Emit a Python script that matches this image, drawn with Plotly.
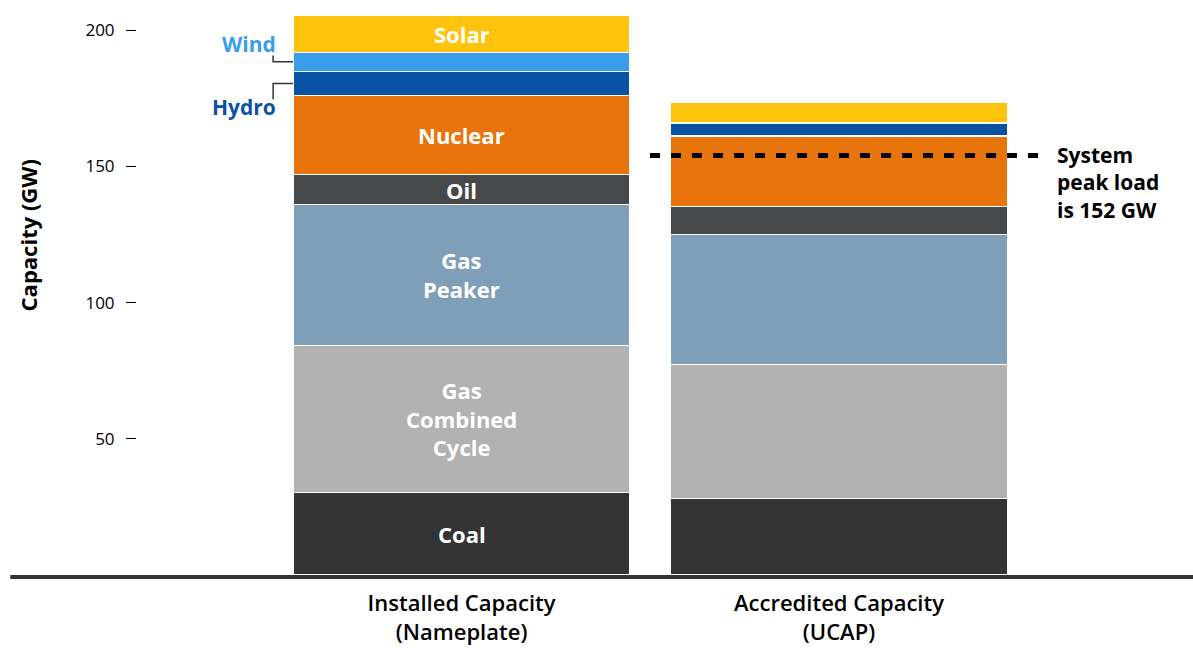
import plotly.graph_objects as go

bars = ["Installed Capacity<br>(Nameplate)", "Accredited Capacity<br>(UCAP)"]
sources = ["Coal", "Gas Combined Cycle", "Gas Peaker", "Oil", "Nuclear", "Hydro", "Wind", "Solar"]
installed = [30.4, 53.8, 51.9, 10.8, 29.0, 9.1, 6.9, 13.4]
ucap = [28.2, 49.0, 47.9, 10.3, 25.8, 4.5, 0.3, 7.5]
colors = ["#343434", "#b2b2b2", "#7f9fb8", "#47484a", "#e7750c", "#0a52a3", "#389ee9", "#fec30c"]
inside_labels = ["Coal", "Gas<br>Combined<br>Cycle", "Gas<br>Peaker", "Oil", "Nuclear", None, None, "Solar"]
peak_line = 154
peak_text = "System<br>peak load<br>is 152 GW"
y_ticks = [50, 100, 150, 200]

FONT = "Open Sans"
xs = [0, 1]

fig = go.Figure()
for i, src in enumerate(sources):
    fig.add_trace(go.Bar(
        x=xs, y=[installed[i], ucap[i]], name=src, width=0.893,
        marker=dict(color=colors[i], line=dict(color="white", width=1.2)),
        hoverinfo="name+y",
    ))

# labels inside the installed bar
base = 0
for i, lab in enumerate(inside_labels):
    mid = base + installed[i] / 2
    base += installed[i]
    if lab:
        fig.add_annotation(x=0, y=mid, text=f"<b>{lab}</b>", showarrow=False,
                           font=dict(family=FONT, size=22, color="white"))

# wind / hydro callouts
hydro_mid = sum(installed[:5]) + installed[5] / 2
wind_mid = sum(installed[:6]) + installed[6] / 2
lx = -0.4993
bx = -0.4465
fig.add_shape(type="path", path=f"M {lx} {wind_mid + 2.3} L {lx} {wind_mid} L {bx} {wind_mid}",
              line=dict(color="#333333", width=1.5))
fig.add_shape(type="path", path=f"M {lx} {hydro_mid - 5.8} L {lx} {hydro_mid} L {bx} {hydro_mid}",
              line=dict(color="#333333", width=1.5))
fig.add_annotation(x=lx, y=wind_mid + 6.4, text="<b>Wind</b>", showarrow=False, xanchor="right",
                   xshift=5, font=dict(family=FONT, size=21, color=colors[6]))
fig.add_annotation(x=lx, y=hydro_mid - 8.6, text="<b>Hydro</b>", showarrow=False, xanchor="right",
                   xshift=5, font=dict(family=FONT, size=21, color=colors[5]))

# peak load line
fig.add_shape(type="line", x0=0.4993, x1=1.54, y0=peak_line, y1=peak_line,
              line=dict(color="black", width=5, dash="10px,11px"))
fig.add_annotation(x=1.572, y=peak_line, text=f"<b>{peak_text}</b>", showarrow=False,
                   xanchor="left", yanchor="top", yshift=17, align="left",
                   font=dict(family=FONT, size=21, color="black"))

# baseline (paper-referenced so it is not clipped by the plot area)
fig.add_shape(type="line", xref="paper", yref="paper", x0=-0.12, x1=1, y0=-0.0035, y1=-0.0035,
              line=dict(color="#333333", width=4))

fig.add_annotation(xref="paper", yref="paper", x=-0.104, y=0.594, xshift=-16,
                   text="Capacity (GW)", textangle=-90, showarrow=False,
                   font=dict(family=FONT, size=22, color="black", weight=700))

fig.update_layout(
    barmode="stack",
    width=1193, height=648,
    margin=dict(l=137, r=0, t=3, b=73),
    plot_bgcolor="white", paper_bgcolor="white",
    showlegend=False,
    font=dict(family=FONT, color="black"),
    xaxis=dict(range=[-0.86, 1.938], tickvals=xs, ticktext=bars, showgrid=False, zeroline=False,
               showline=False, ticks="", automargin=False,
               tickfont=dict(size=22, color="black", weight=600), ticklabelstandoff=13),
    yaxis=dict(range=[0, 210], tickvals=y_ticks, showgrid=False, zeroline=False, showline=False,
               ticks="outside", ticklen=10, tickcolor="black", tickwidth=1.2, automargin=False,
               tickfont=dict(size=17, color="black"), ticklabelstandoff=8),
)

fig.write_html("out.html", config={"displayModeBar": False},
               post_script="document.body.style.margin='0';")
